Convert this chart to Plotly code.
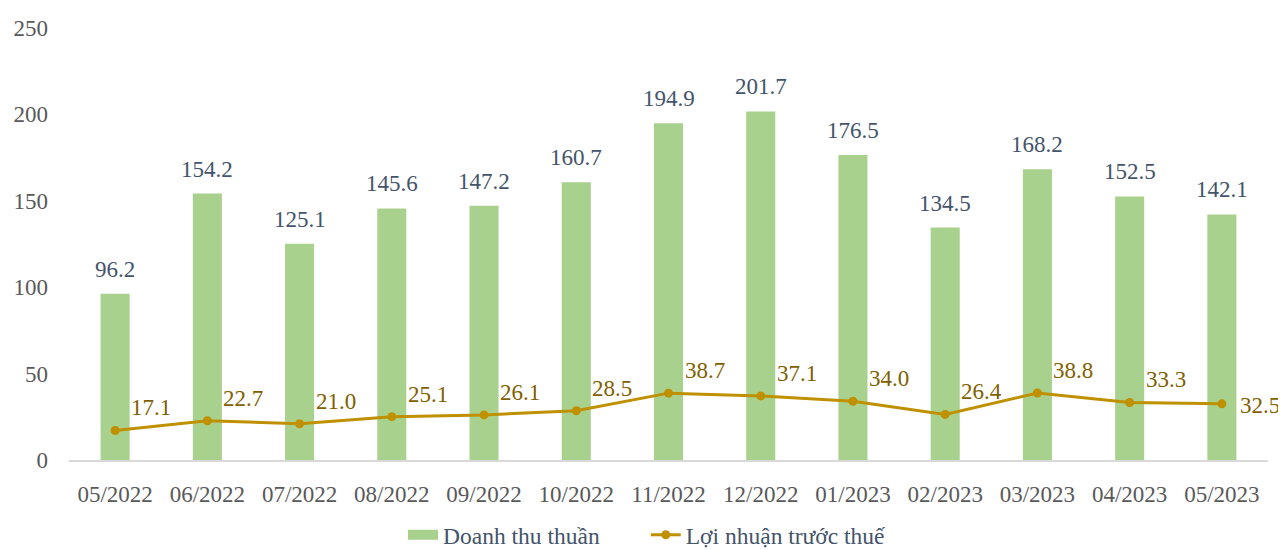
import plotly.graph_objects as go

months = ["05/2022", "06/2022", "07/2022", "08/2022", "09/2022", "10/2022", "11/2022",
          "12/2022", "01/2023", "02/2023", "03/2023", "04/2023", "05/2023"]
revenue = [96.2, 154.2, 125.1, 145.6, 147.2, 160.7, 194.9, 201.7, 176.5, 134.5, 168.2, 152.5, 142.1]
profit = [17.1, 22.7, 21.0, 25.1, 26.1, 28.5, 38.7, 37.1, 34.0, 26.4, 38.8, 33.3, 32.5]
y_ticks = [0, 50, 100, 150, 200, 250]

FONT = "'Times New Roman', 'Liberation Serif', 'DejaVu Serif', serif"
BAR_C = "#A9D18E"
LINE_C = "#BF9000"
BAR_TXT = "#44546A"
LINE_TXT = "#806000"

fig = go.Figure()
fig.add_trace(go.Bar(x=months, y=revenue, name="Doanh thu thuần", showlegend=False,
                     marker=dict(color=BAR_C, line=dict(width=0))))
# legend swatch for the bars (wide rectangle like the reference)
fig.add_trace(go.Scatter(x=[None], y=[None], name="Doanh thu thuần" + "\u00a0" * 7, mode="lines",
                         line=dict(color=BAR_C, width=13), hoverinfo="skip"))
fig.add_trace(go.Scatter(x=months, y=profit, name="Lợi nhuận trước thuế", mode="lines+markers",
                         line=dict(color=LINE_C, width=3), marker=dict(color=LINE_C, size=9)))

ann = []
for m, v in zip(months, revenue):
    ann.append(dict(x=m, y=v, text=f"{v:.1f}", showarrow=False, yanchor="bottom",
                    xanchor="center", yshift=10, font=dict(family=FONT, size=23, color=BAR_TXT)))
n = len(months)
for i, (m, v) in enumerate(zip(months, profit)):
    last = i == n - 1
    ann.append(dict(x=m, y=v, text=f"{v:.1f}", showarrow=False,
                    yanchor="middle" if last else "bottom", xanchor="left",
                    xshift=16 if last else 14, yshift=-2 if last else 8,
                    font=dict(family=FONT, size=23, color=LINE_TXT)))

fig.update_layout(
    width=1278, height=542,
    margin=dict(l=61, r=18, t=20, b=90, autoexpand=False),
    paper_bgcolor="white", plot_bgcolor="white",
    font=dict(family=FONT, size=23, color="#595959"),
    bargap=0.685,
    showlegend=True,
    legend=dict(orientation="h", x=0.5, xanchor="center", xref="container",
                y=15 / 542, yanchor="middle", yref="container",
                font=dict(family=FONT, size=23.5, color=BAR_TXT),
                tracegroupgap=0),
    annotations=ann,
    xaxis=dict(range=[-0.5, len(months) - 0.5], showgrid=False, showline=True, linecolor="#D9D9D9",
               linewidth=2, automargin=False,
               ticks="", ticklabelstandoff=12, tickfont=dict(family=FONT, size=23, color="#595959")),
    yaxis=dict(range=[0, 250], tickvals=y_ticks, showgrid=False, showline=False, zeroline=False,
               automargin=False,
               ticks="", ticklabelstandoff=20, tickfont=dict(family=FONT, size=23, color="#595959")),
)
fig.write_html("out.html")
